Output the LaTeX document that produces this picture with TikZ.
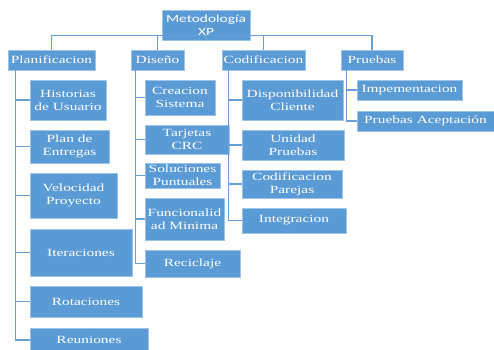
\documentclass[tikz,border=0pt]{standalone}
\usepackage{fontspec}
\setmainfont[FakeStretch=1.4]{Liberation Serif}
\newfontfamily\rootfont[FakeStretch=1.4]{Carlito}
\definecolor{boxblue}{HTML}{5B9BD5}
\definecolor{boxedge}{HTML}{9DC3E6}
\definecolor{linkblue}{HTML}{6A9FD6}
\begin{document}
\begin{tikzpicture}[x=1pt,y=-1pt,
      box/.style={draw=boxedge, line width=0.8pt, fill=boxblue, text=white,
        align=center, inner sep=1pt, font=\fontsize{11}{13}\selectfont},
      link/.style={draw=linkblue, line width=1.4pt}]
      \useasboundingbox (0,0) rectangle (494,349);
      \path (206,25) node[box, minimum width=88, minimum height=30,
        font=\rootfont\fontsize{11}{13}\selectfont] (root) {Metodología\\XP};
      \path (51.5,60) node[box, minimum width=87, minimum height=20] (plan) {Planificacion};
      \path (157.5,60) node[box, minimum width=53, minimum height=20] (dis) {Diseño};
      \path (263.5,60) node[box, minimum width=83, minimum height=20] (cod) {Codificacion};
      \path (372,60) node[box, minimum width=62, minimum height=20] (pru) {Pruebas};
      \path (68,100) node[box, minimum width=76, minimum height=40] (hist) {Historias\\de Usuario};
      \path (69.5,146.5) node[box, minimum width=79, minimum height=33] (entr) {Plan de\\Entregas};
      \path (73.5,195.5) node[box, minimum width=87, minimum height=45] (velo) {Velocidad\\Proyecto};
      \path (81,252.5) node[box, minimum width=102, minimum height=47] (iter) {Iteraciones};
      \path (86,301.5) node[box, minimum width=112, minimum height=31] (rota) {Rotaciones};
      \path (89,340) node[box, minimum width=118, minimum height=24] (reun) {Reuniones};
      \path (180,97.5) node[box, minimum width=70, minimum height=35] (crea) {Creacion\\Sistema};
      \path (187,139.5) node[box, minimum width=84, minimum height=29] (tarj) {Tarjetas\\CRC};
      \path (182.5,175.5) node[box, minimum width=75, minimum height=25] (solu) {Soluciones\\Puntuales};
      \path (184.5,219) node[box, minimum width=79, minimum height=42] (func) {Funcionalid\\ad Minima};
      \path (192.5,263.5) node[box, minimum width=95, minimum height=27] (reci) {Reciclaje};
      \path (292.5,100) node[box, minimum width=101, minimum height=40] (disp) {Disponibilidad\\Cliente};
      \path (293,145) node[box, minimum width=102, minimum height=30] (unid) {Unidad\\Pruebas};
      \path (292,184) node[box, minimum width=100, minimum height=28] (pare) {Codificacion\\Parejas};
      \path (294,220.5) node[box, minimum width=104, minimum height=25] (inte) {Integracion};
      \path (409.5,90) node[box, minimum width=105, minimum height=20] (impe) {Impementacion};
      \path (425.5,121) node[box, minimum width=137, minimum height=20] (acep) {Pruebas Aceptación};
      \foreach \top in {plan,dis,cod,pru}
        \draw[link] (root.south) -- ([yshift=5]root.south) -| (\top.north);
      \foreach \leaf in {hist,entr,velo,iter,rota,reun}
        \draw[link] ([xshift=8]plan.south west) |- (\leaf.west);
      \foreach \leaf in {crea,tarj,solu,func,reci}
        \draw[link] ([xshift=5]dis.south west) |- (\leaf.west);
      \foreach \leaf in {disp,unid,pare,inte}
        \draw[link] ([xshift=7]cod.south west) |- (\leaf.west);
      \foreach \leaf in {impe,acep}
        \draw[link] ([xshift=6]pru.south west) |- (\leaf.west);
\end{tikzpicture}
\end{document}
